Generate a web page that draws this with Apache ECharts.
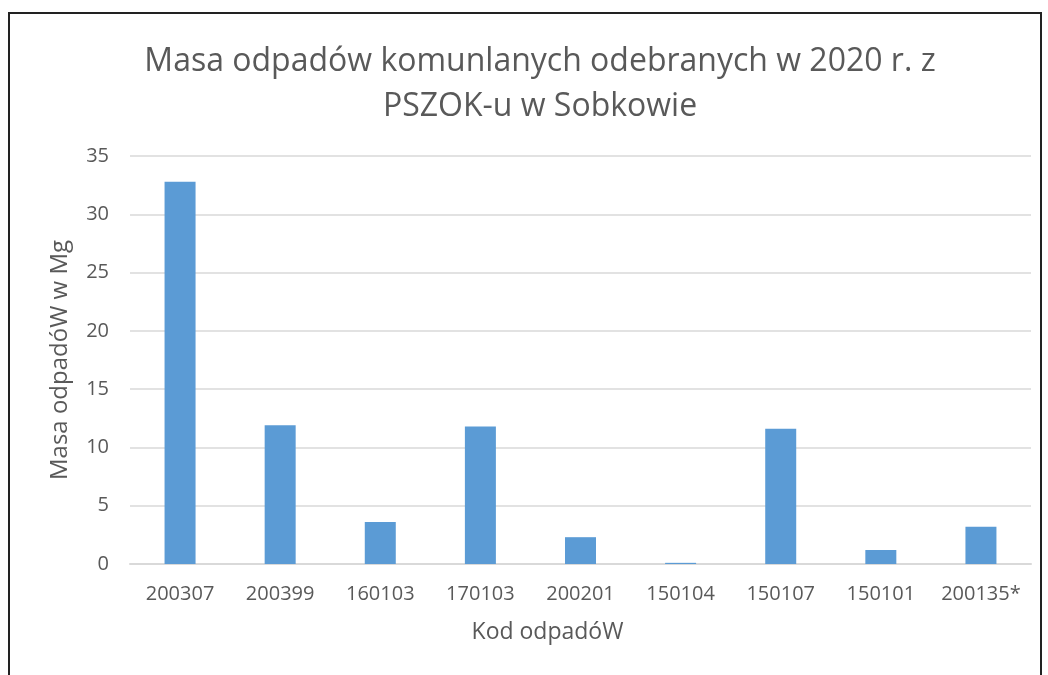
<!DOCTYPE html>
<html>
<head>
<meta charset="utf-8">
<script src="https://cdn.jsdelivr.net/npm/echarts@6/dist/echarts.min.js"></script>
<style>
  html, body { margin: 0; padding: 0; background: #fff; overflow: hidden; }
  #frame {
    position: absolute; left: 8px; top: 12px; width: 1030px; height: 700px;
    border-left: 2px solid #222; border-top: 2px solid #222; border-right: 2px solid #222;
  }
  #chart { position: absolute; left: 0; top: 0; width: 1048px; height: 675px; }
</style>
</head>
<body>
<div id="frame"></div>
<div id="chart"></div>
<script>
const categories = ['200307', '200399', '160103', '170103', '200201', '150104', '150107', '150101', '200135*'];
const masses = [32.8, 11.9, 3.6, 11.8, 2.3, 0.1, 11.6, 1.2, 3.2];
const yTicks = [0, 5, 10, 15, 20, 25, 30, 35];

const chartDom = document.getElementById('chart');
const myChart = echarts.init(chartDom);
const font = 'Open Sans, Noto Sans, sans-serif';

const option = {
  animation: false,
  title: {
    text: 'Masa odpadów komunlanych odebranych w 2020 r. z\nPSZOK-u w Sobkowie',
    left: 535,
    top: 34,
    textAlign: 'center',
    textStyle: { fontFamily: font, fontSize: 32, fontWeight: 'normal', color: '#595959', lineHeight: 45 }
  },
  grid: { left: 130, right: 17, top: 156, bottom: 111 },
  xAxis: {
    type: 'category',
    data: categories,
    name: 'Kod odpadóW',
    nameLocation: 'middle',
    nameGap: 57,
    nameTextStyle: { fontFamily: font, fontSize: 23, color: '#595959', padding: [0, 66, 0, 0] },
    axisLine: { lineStyle: { color: '#d9d9d9', width: 2 } },
    axisTick: { show: false },
    axisLabel: { interval: 0, hideOverlap: false, fontFamily: font, fontSize: 20, color: '#595959', margin: 20 }
  },
  yAxis: {
    type: 'value',
    min: yTicks[0],
    max: yTicks[yTicks.length - 1],
    interval: 5,
    name: 'Masa odpadóW w Mg',
    nameLocation: 'middle',
    nameGap: 58,
    nameTextStyle: { fontFamily: font, fontSize: 24, color: '#595959' },
    axisLine: { show: false },
    axisTick: { show: false },
    axisLabel: { fontFamily: font, fontSize: 20, color: '#595959', margin: 21 },
    splitLine: { lineStyle: { color: '#d9d9d9', width: 1.5 } }
  },
  series: [{
    type: 'bar',
    data: masses,
    barWidth: 31,
    itemStyle: { color: '#5b9bd5' }
  }]
};
option && myChart.setOption(option);
</script>
</body>
</html>
